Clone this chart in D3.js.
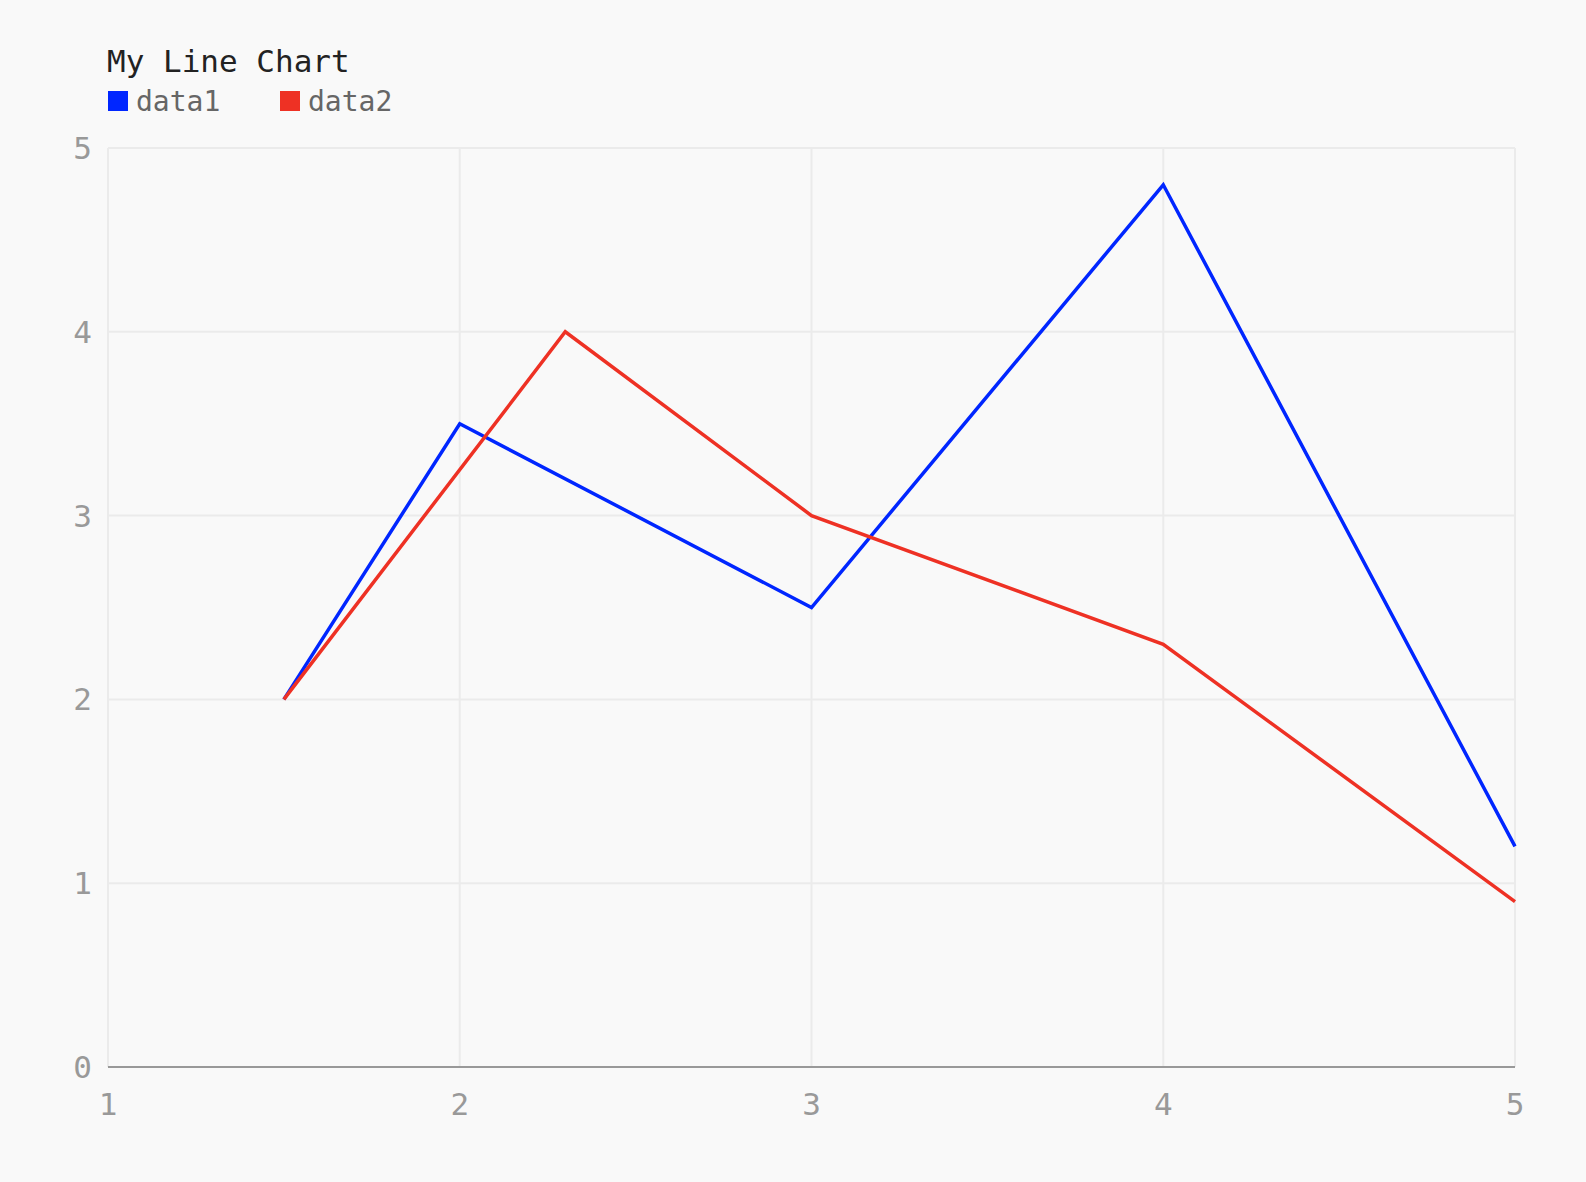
<!DOCTYPE html>
<html><head><meta charset="utf-8">
<script src="https://cdn.jsdelivr.net/npm/d3@7"></script>
<style>body{margin:0;background:#f9f9f9;}</style>
</head><body><div id="chart"></div>
<script>
const seriesNames = ["data1", "data2"];
const seriesColors = ["#0026ff", "#ee3124"];
const data1 = [[1.5, 2], [2, 3.5], [3, 2.5], [4, 4.8], [5, 1.2]];
const data2 = [[1.5, 2], [2.3, 4], [3, 3], [4, 2.3], [5, 0.9]];
const xTicks = [1, 2, 3, 4, 5];
const yTicks = [0, 1, 2, 3, 4, 5];

const width = 1586, height = 1182;
const margin = {top: 148, right: 71, bottom: 115, left: 108};
const font = "'DejaVu Sans Mono', monospace";

const x = d3.scaleLinear([1, 5], [margin.left, width - margin.right]);
const y = d3.scaleLinear([0, 5], [height - margin.bottom, margin.top]);

const svg = d3.select("#chart").append("svg")
    .attr("width", width).attr("height", height)
    .style("background", "#f9f9f9");

// grid
svg.append("g").selectAll("line").data(xTicks).join("line")
    .attr("x1", d => x(d)).attr("x2", d => x(d))
    .attr("y1", y(5)).attr("y2", y(0))
    .attr("stroke", "#ebebeb").attr("stroke-width", 2);
svg.append("g").selectAll("line").data(yTicks.filter(d => d > 0)).join("line")
    .attr("x1", x(1)).attr("x2", x(5))
    .attr("y1", d => y(d)).attr("y2", d => y(d))
    .attr("stroke", "#ebebeb").attr("stroke-width", 2);

// axes
svg.append("line").attr("x1", x(1)).attr("x2", x(5))
    .attr("y1", y(0)).attr("y2", y(0)).attr("stroke", "#999").attr("stroke-width", 2);

svg.append("g").selectAll("text").data(xTicks).join("text")
    .attr("x", d => x(d)).attr("y", y(0) + 48)
    .attr("text-anchor", "middle")
    .style("font", `31px ${font}`).attr("fill", "#999").text(d => d);
svg.append("g").selectAll("text").data(yTicks).join("text")
    .attr("x", x(1) - 16).attr("y", d => y(d) + 11)
    .attr("text-anchor", "end")
    .style("font", `31px ${font}`).attr("fill", "#999").text(d => d);

// lines
const line = d3.line().x(d => x(d[0])).y(d => y(d[1]));
[data1, data2].forEach((s, i) => {
    svg.append("path").datum(s)
        .attr("fill", "none").attr("stroke", seriesColors[i])
        .attr("stroke-width", 3.5).attr("d", line);
});

// title + legend
svg.append("text").attr("x", 107).attr("y", 72)
    .style("font", `31px ${font}`).attr("fill", "#222").text("My Line Chart");
const leg = svg.append("g").selectAll("g").data(seriesNames).join("g")
    .attr("transform", (d, i) => `translate(${108 + i * 172},91)`);
leg.append("rect").attr("width", 20).attr("height", 20).attr("fill", (d, i) => seriesColors[i]);
leg.append("text").attr("x", 28).attr("y", 20)
    .style("font", `28px ${font}`).attr("fill", "#666").text(d => d);
</script>
</body></html>
